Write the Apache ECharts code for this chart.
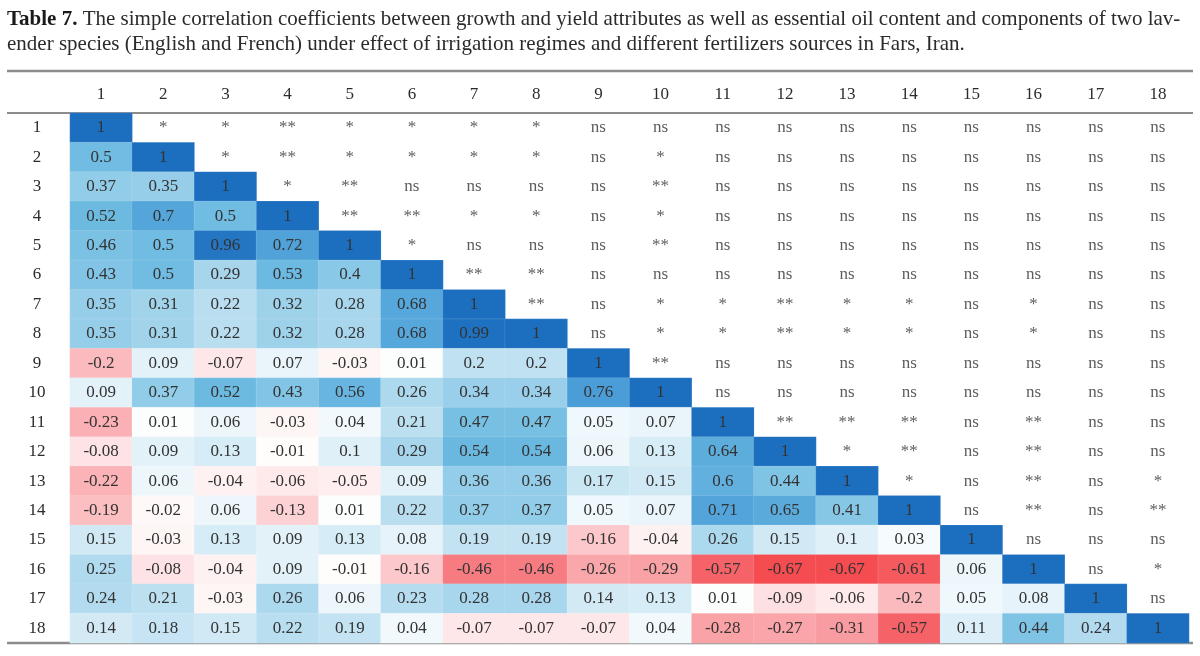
<!DOCTYPE html>
<html>
<head>
<meta charset="utf-8">
<script src="https://cdn.jsdelivr.net/npm/echarts@6/dist/echarts.min.js"></script>
<style>
html, body { margin: 0; padding: 0; background: #fff; }
#container { width: 1200px; height: 656px; }
</style>
</head>
<body>
<div id="container"></div>
<script>
var labels = ['1', '2', '3', '4', '5', '6', '7', '8', '9', '10', '11', '12', '13', '14', '15', '16', '17', '18'];

// lower triangle (incl. diagonal), row by row
var corrRows = [
    [1],
    [0.5, 1],
    [0.37, 0.35, 1],
    [0.52, 0.7, 0.5, 1],
    [0.46, 0.5, 0.96, 0.72, 1],
    [0.43, 0.5, 0.29, 0.53, 0.4, 1],
    [0.35, 0.31, 0.22, 0.32, 0.28, 0.68, 1],
    [0.35, 0.31, 0.22, 0.32, 0.28, 0.68, 0.99, 1],
    [-0.2, 0.09, -0.07, 0.07, -0.03, 0.01, 0.2, 0.2, 1],
    [0.09, 0.37, 0.52, 0.43, 0.56, 0.26, 0.34, 0.34, 0.76, 1],
    [-0.23, 0.01, 0.06, -0.03, 0.04, 0.21, 0.47, 0.47, 0.05, 0.07, 1],
    [-0.08, 0.09, 0.13, -0.01, 0.1, 0.29, 0.54, 0.54, 0.06, 0.13, 0.64, 1],
    [-0.22, 0.06, -0.04, -0.06, -0.05, 0.09, 0.36, 0.36, 0.17, 0.15, 0.6, 0.44, 1],
    [-0.19, -0.02, 0.06, -0.13, 0.01, 0.22, 0.37, 0.37, 0.05, 0.07, 0.71, 0.65, 0.41, 1],
    [0.15, -0.03, 0.13, 0.09, 0.13, 0.08, 0.19, 0.19, -0.16, -0.04, 0.26, 0.15, 0.1, 0.03, 1],
    [0.25, -0.08, -0.04, 0.09, -0.01, -0.16, -0.46, -0.46, -0.26, -0.29, -0.57, -0.67, -0.67, -0.61, 0.06, 1],
    [0.24, 0.21, -0.03, 0.26, 0.06, 0.23, 0.28, 0.28, 0.14, 0.13, 0.01, -0.09, -0.06, -0.2, 0.05, 0.08, 1],
    [0.14, 0.18, 0.15, 0.22, 0.19, 0.04, -0.07, -0.07, -0.07, 0.04, -0.28, -0.27, -0.31, -0.57, 0.11, 0.44, 0.24, 1]
];

// upper triangle significance, row i starts at column i+1
var sigRows = [
    ['*', '*', '**', '*', '*', '*', '*', 'ns', 'ns', 'ns', 'ns', 'ns', 'ns', 'ns', 'ns', 'ns', 'ns'],
    ['*', '**', '*', '*', '*', '*', 'ns', '*', 'ns', 'ns', 'ns', 'ns', 'ns', 'ns', 'ns', 'ns'],
    ['*', '**', 'ns', 'ns', 'ns', 'ns', '**', 'ns', 'ns', 'ns', 'ns', 'ns', 'ns', 'ns', 'ns'],
    ['**', '**', '*', '*', 'ns', '*', 'ns', 'ns', 'ns', 'ns', 'ns', 'ns', 'ns', 'ns'],
    ['*', 'ns', 'ns', 'ns', '**', 'ns', 'ns', 'ns', 'ns', 'ns', 'ns', 'ns', 'ns'],
    ['**', '**', 'ns', 'ns', 'ns', 'ns', 'ns', 'ns', 'ns', 'ns', 'ns', 'ns'],
    ['**', 'ns', '*', '*', '**', '*', '*', 'ns', '*', 'ns', 'ns'],
    ['ns', '*', '*', '**', '*', '*', 'ns', '*', 'ns', 'ns'],
    ['**', 'ns', 'ns', 'ns', 'ns', 'ns', 'ns', 'ns', 'ns'],
    ['ns', 'ns', 'ns', 'ns', 'ns', 'ns', 'ns', 'ns'],
    ['**', '**', '**', 'ns', '**', 'ns', 'ns'],
    ['*', '**', 'ns', '**', 'ns', 'ns'],
    ['*', 'ns', '**', 'ns', '*'],
    ['ns', '**', 'ns', '**'],
    ['ns', 'ns', 'ns'],
    ['ns', '*'],
    ['ns']
];

var titleLine1 = 'The simple correlation coefficients between growth and yield attributes as well as essential oil content and components of two lav-';
var titleLine2 = 'ender species (English and French) under effect of irrigation regimes and different fertilizers sources in Fars, Iran.';

var heatData = [];
corrRows.forEach(function (row, i) {
    row.forEach(function (v, j) {
        heatData.push([j, i, v]);
    });
});

var sigData = [];
sigRows.forEach(function (row, i) {
    row.forEach(function (s, k) {
        sigData.push({ value: [i + 1 + k, i], name: s });
    });
});

var serif = '"Liberation Serif", "DejaVu Serif", serif';

var dom = document.getElementById('container');
var myChart = echarts.init(dom);

var rule = function (y, w) {
    return {
        type: 'line',
        shape: { x1: 7, y1: y, x2: 1193, y2: y },
        style: { stroke: '#8c8c8c', lineWidth: w }
    };
};

option = {
    animation: false,
    backgroundColor: '#fff',
    title: {
        text: '{b|Table 7.} ' + titleLine1 + '\n' + titleLine2,
        left: 2,
        top: 2,
        textStyle: {
            fontFamily: serif,
            fontSize: 21,
            fontWeight: 'normal',
            color: '#2b2b2b',
            lineHeight: 25,
            rich: {
                b: { fontFamily: serif, fontSize: 21, fontWeight: 'bold', color: '#1a1a1a', lineHeight: 25 }
            }
        }
    },
    graphic: [rule(71, 2.5), rule(113, 2), rule(643, 2.5)],
    grid: {
        left: 70,
        right: 11,
        top: 113,
        height: 530,
        containLabel: false
    },
    xAxis: {
        type: 'category',
        position: 'top',
        data: labels,
        axisLine: { show: false },
        axisTick: { show: false },
        splitLine: { show: false },
        axisLabel: { fontFamily: serif, fontSize: 17, color: '#2b2b2b', margin: 10 }
    },
    yAxis: {
        type: 'category',
        inverse: true,
        data: labels,
        axisLine: { show: false },
        axisTick: { show: false },
        splitLine: { show: false },
        axisLabel: { fontFamily: serif, fontSize: 17, color: '#2b2b2b', align: 'center', margin: 33 }
    },
    visualMap: {
        show: false,
        type: 'continuous',
        seriesIndex: 0,
        dimension: 2,
        min: -1,
        max: 1,
        inRange: {
            color: ['#ea1f24', '#f3393d', '#f6747a', '#faa9ad', '#ffffff', '#b0daee', '#70bce2', '#4c9fd8', '#1c6ebf']
        }
    },
    series: [{
            type: 'heatmap',
            data: heatData,
            itemStyle: { borderColor: 'rgba(255,255,255,0.25)', borderWidth: 0.5 },
            label: {
                show: true,
                fontFamily: serif,
                fontSize: 17,
                color: '#333',
                formatter: function (p) { return String(p.value[2]); }
            },
            emphasis: { disabled: true }
        },
        {
            type: 'scatter',
            data: sigData,
            symbol: 'rect',
            symbolSize: 1,
            itemStyle: { color: 'rgba(0,0,0,0)' },
            label: {
                show: true,
                position: 'inside',
                fontFamily: serif,
                fontSize: 17,
                color: '#333',
                formatter: '{b}'
            },
            emphasis: { disabled: true }
        }
    ]
};

myChart.setOption(option, true);
</script>
</body>
</html>
